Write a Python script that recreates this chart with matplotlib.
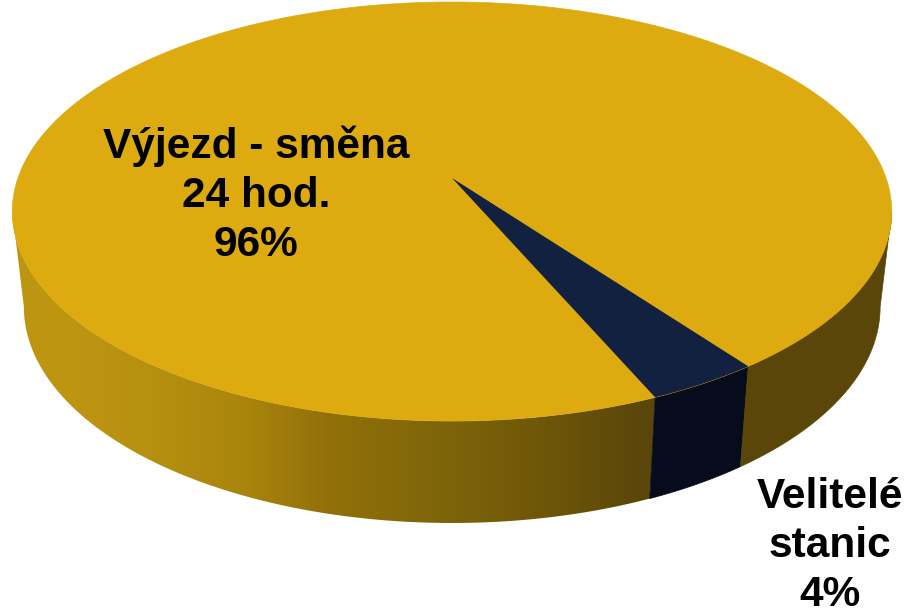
import numpy as np
import matplotlib
matplotlib.use('Agg')
import matplotlib.pyplot as plt
from matplotlib.colors import LinearSegmentedColormap
from matplotlib.patches import Polygon

plt.rcParams['font.family'] = ['Liberation Sans', 'DejaVu Sans']

# Data
labels = ['Výjezd - směna\n24 hod.', 'Velitelé\nstanic']
shares = [96.4, 3.6]
shown = ['96%', '4%']

top_colors = ['#DDAA10', '#11213F']
side_flat = '#5A4608'
side_navy = '#070C1C'

# gradient on the front wall, screen x -> colour
grad_x = [0, 60, 150, 250, 330, 450, 560, 640, 909]
grad_c = ['#BC9511', '#BE9612', '#B7900F', '#A8840D', '#927009', '#7C640A', '#6C5408', '#5A4608', '#5A4608']

# projection of the pie disc onto the picture (pixels)
cx = 452
persp = 0.16


def project(theta, a, c, b):
    u = np.cos(theta)
    v = np.sin(theta)
    w = 1 + persp * v
    return cx + a * u / w, (c + b * v) / w


def top(theta):
    return project(theta, 434, 178, -175.68)


def bottom(theta):
    return project(theta, 422.6, 272.4, -166.9)


def arc(func, t0, t1):
    x, y = func(np.linspace(t0, t1, 300))
    return np.column_stack([x, y])


def wall(t0, t1):
    return np.vstack([arc(top, t0, t1), arc(bottom, t1, t0)])


fig = plt.figure(figsize=(9.09, 6.10), dpi=100)
ax = fig.add_axes([0, 0, 1, 1])

# navy slice is placed so that its edges land where the picture has them
navy_span = np.radians(shares[1] / sum(shares) * 360)
navy_end = np.radians(-53.5)
navy_start = navy_end - navy_span
sil = np.arcsin(persp)  # widest point of the disc on screen

# front wall
cmap = LinearSegmentedColormap.from_list(
    'wall', [((x - grad_x[0]) / (grad_x[-1] - grad_x[0]), c) for x, c in zip(grad_x, grad_c)], N=512)
img = ax.imshow(np.linspace(0, 1, 909)[None, :], cmap=cmap, extent=(0, 909, 610, 0),
                aspect='auto', zorder=1)
left = Polygon(wall(-np.pi + sil, navy_start), closed=True, transform=ax.transData, fc='none', ec='none')
ax.add_patch(left)
img.set_clip_path(left)

ax.add_patch(Polygon(wall(navy_start, navy_end), closed=True, fc=side_navy, ec=side_navy, lw=0.5, zorder=2))
ax.add_patch(Polygon(wall(navy_end, -sil), closed=True, fc=side_flat, ec=side_flat, lw=0.5, zorder=2))

# top face
ax.add_patch(Polygon(arc(top, 0, 2 * np.pi), closed=True, fc=top_colors[0], ec=top_colors[0], lw=0.5, zorder=3))
apex = np.array([[cx, 178.0]])
ax.add_patch(Polygon(np.vstack([apex, arc(top, navy_start, navy_end)]), closed=True,
                     fc=top_colors[1], ec='none', zorder=4))

ax.text(256, 195, labels[0] + '\n' + shown[0], ha='center', va='center', ma='center',
        fontsize=30.5, fontweight='bold', color='black', linespacing=1.29, zorder=5)
ax.text(830, 546, labels[1] + '\n' + shown[1], ha='center', va='center', ma='center',
        fontsize=30.5, fontweight='bold', color='black', linespacing=1.29, zorder=5)

ax.set_xlim(0, 909)
ax.set_ylim(610, 0)
ax.axis('off')

fig.savefig('out.png', dpi=100)
